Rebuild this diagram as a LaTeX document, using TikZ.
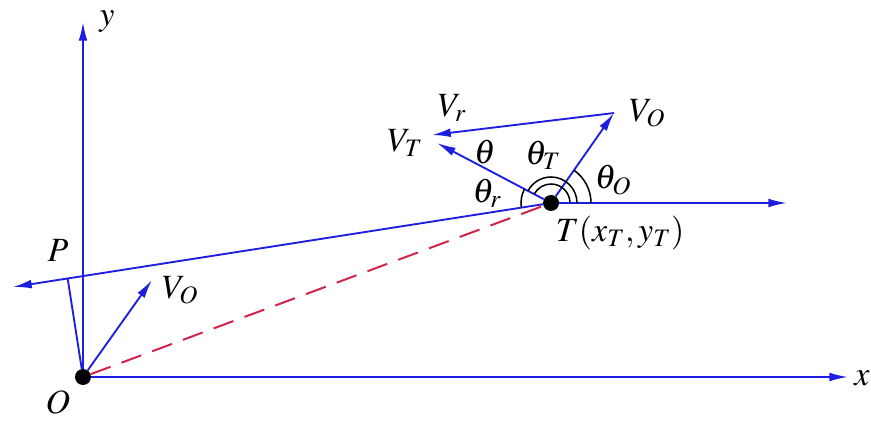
\documentclass[tikz,border=0pt]{standalone}
\usepackage{mathptmx}
\usepackage{fontspec}
\setmainfont{Liberation Serif}
\usetikzlibrary{arrows.meta, calc}

\definecolor{vecblue}{RGB}{30,30,225}
\definecolor{losred}{RGB}{210,35,75}

\begin{document}
\begin{tikzpicture}[
  x=0.03cm, y=0.03cm,
  font=\fontsize{29}{33}\selectfont,
  dot/.style={circle, fill=black, inner sep=0pt, minimum size=0.48cm},
  lbl/.style={inner sep=0pt},
  ln/.style={line width=1.6pt, draw=vecblue},
  vec/.style={ln, -{Latex[length=16pt, width=7.5pt]}},
  los/.style={line width=1.7pt, draw=losred, dash pattern=on 18pt off 10pt},
  ang/.style={line width=1.3pt, draw=black}
]
\useasboundingbox (0,0) rectangle (871,421);

% --- Points ---
\node[dot] (O) at (83,44) {};
\node[dot] (T) at (551,218) {};
\coordinate (xend) at (848,44);
\coordinate (yend) at (83,399);
\coordinate (Rend) at (787,218);
\coordinate (Lend) at (13,134);
\coordinate (VOa)  at (152,141);
\coordinate (VTt)  at (437,278);
\coordinate (VOt)  at (614,308);
\coordinate (Vrt)  at (432,286);
\coordinate (P) at ($(T.center)!(O.center)!(Lend)$);

% --- Axes ---
\draw[vec] (O) -- (xend);
\draw[vec] (O) -- (yend);

% --- Line of sight and perpendicular ---
\draw[los] (O) -- (T);
\draw[vec] (T) -- (Lend);
\draw[ln]  (O) -- (P);
\draw[vec] (O) -- (VOa);

% --- Velocities at T ---
\draw[vec] (T) -- (Rend);
\draw[vec] (T) -- (VTt);
\draw[vec] (T) -- (VOt);
\draw[vec] (VOt) -- (Vrt);

% --- Angle arcs ---
\draw[ang] (T.center) ++(0:0.57cm) arc[start angle=0, end angle=151.8, radius=0.57cm];
\draw[ang] (T.center) ++(0:0.78cm) arc[start angle=0, end angle=151.8, radius=0.78cm];
\draw[ang] (T.center) ++(151.8:0.9cm) arc[start angle=151.8, end angle=189, radius=0.9cm];
\draw[ang] (T.center) ++(0:1.2cm) arc[start angle=0, end angle=54.7, radius=1.2cm];

% --- Labels ---
\node[lbl] (xl)   at (862,43)  {$x$};
\node[lbl] (yl)   at (107,399) {$y$};
\node[lbl] (Ol)   at (58,19)   {$O$};
\node[lbl] (Pl)   at (58,171)  {$P$};
\node[lbl] (VOal) at (180,131) {$V_O$};
\node[lbl] (Vrl)  at (452,313) {$V_r$};
\node[lbl] (VOtl) at (647,308) {$V_O$};
\node[lbl] (VTl)  at (405,278) {$V_T$};
\node[lbl] (th)   at (485,269) {$\theta$};
\node[lbl] (thT)  at (543,266) {$\theta_T$};
\node[lbl] (thO)  at (613,241) {$\theta_O$};
\node[lbl] (thr)  at (487,228) {$\theta_r$};
\node[lbl] (Tl)   at (620,188) {$T(x_T, y_T)$};

\end{tikzpicture}
\end{document}
